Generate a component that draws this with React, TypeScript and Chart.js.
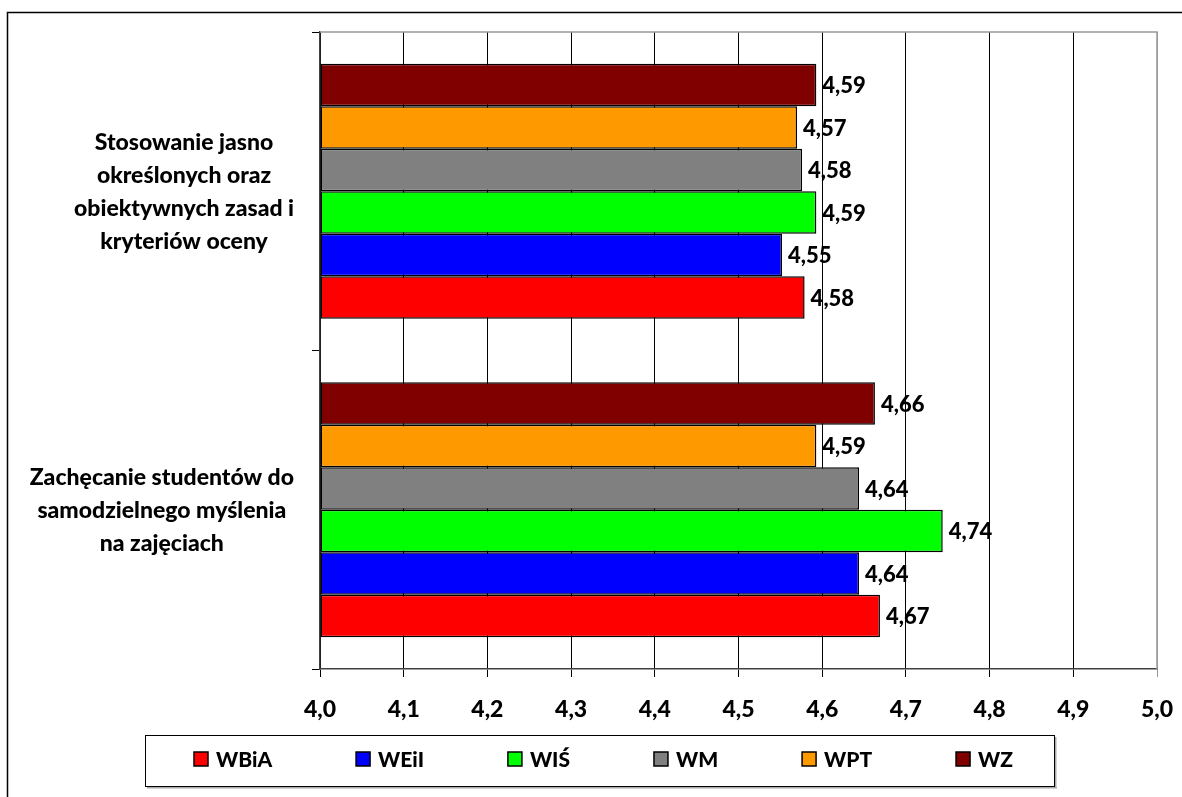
import React, { useEffect, useRef } from 'react';
import { Chart, registerables } from 'chart.js';

Chart.register(...registerables);

// ---- data ----
const categories: string[][] = [
  ['Stosowanie jasno', 'określonych oraz', 'obiektywnych zasad i', 'kryteriów oceny'],
  ['Zachęcanie studentów do', 'samodzielnego myślenia', 'na zajęciach'],
];
const seriesNames = ['WBiA', 'WEiI', 'WIŚ', 'WM', 'WPT', 'WZ'];
const seriesColors = ['#FF0000', '#0000FF', '#00FF00', '#808080', '#FF9900', '#800000'];
const valuesWBiA = [4.579, 4.669];
const valuesWEiI = [4.552, 4.644];
const valuesWIS = [4.593, 4.744];
const valuesWM = [4.576, 4.644];
const valuesWPT = [4.57, 4.593];
const valuesWZ = [4.593, 4.663];
const seriesValues = [valuesWBiA, valuesWEiI, valuesWIS, valuesWM, valuesWPT, valuesWZ];
const xMin = 4.0;
const xMax = 5.0;
const xStep = 0.1;

const FONT = 'Lato, "Open Sans", sans-serif';
const WEIGHT = '900';
const fmt = (v: number, d: number) => v.toFixed(d).replace('.', ',');

const framePlugin = {
  id: 'outerFrame',
  beforeDraw(chart: any) {
    const ctx = chart.ctx;
    ctx.save();
    ctx.strokeStyle = '#000';
    ctx.lineWidth = 1.5;
    ctx.beginPath();
    ctx.moveTo(7.5, 800);
    ctx.lineTo(7.5, 12.5);
    ctx.lineTo(1190, 12.5);
    ctx.stroke();
    ctx.restore();
  },
};

const plotBorderPlugin = {
  id: 'plotBorder',
  afterDatasetsDraw(chart: any) {
    const { ctx, chartArea } = chart;
    ctx.save();
    ctx.strokeStyle = '#999';
    ctx.lineWidth = 1.5;
    ctx.beginPath();
    ctx.moveTo(chartArea.left, chartArea.top);
    ctx.lineTo(chartArea.right, chartArea.top);
    ctx.lineTo(chartArea.right, chartArea.bottom);
    ctx.stroke();
    ctx.restore();
  },
};

// category labels: each block centred line by line, block right-aligned near the axis
const categoryLabelPlugin = {
  id: 'categoryLabels',
  afterDraw(chart: any) {
    const ctx = chart.ctx;
    const y = chart.scales.y;
    ctx.save();
    ctx.font = `${WEIGHT} 23px ${FONT}`;
    ctx.fillStyle = '#000';
    ctx.textAlign = 'center';
    ctx.textBaseline = 'middle';
    const lineH = 33;
    const right = y.right - 26;
    (chart.data.labels as string[][]).forEach((lines, i) => {
      const cy = y.getPixelForTick(i);
      const widest = Math.max(...lines.map((l) => ctx.measureText(l).width));
      const cx = right - widest / 2;
      const top = cy - ((lines.length - 1) * lineH) / 2;
      lines.forEach((l, k) => ctx.fillText(l, cx, top + k * lineH + 1));
    });
    ctx.restore();
  },
};

const valueLabelPlugin = {
  id: 'valueLabels',
  afterDatasetsDraw(chart: any) {
    const ctx = chart.ctx;
    ctx.save();
    ctx.font = `${WEIGHT} 22px ${FONT}`;
    ctx.fillStyle = '#000';
    ctx.textAlign = 'left';
    ctx.textBaseline = 'middle';
    chart.data.datasets.forEach((ds: any, i: number) => {
      const meta = chart.getDatasetMeta(i);
      meta.data.forEach((el: any, j: number) => {
        ctx.fillText(fmt(ds.data[j], 2), el.x + 6, el.y + 1);
      });
    });
    ctx.restore();
  },
};

const legendPlugin = {
  id: 'boxLegend',
  afterDraw(chart: any) {
    const ctx = chart.ctx;
    ctx.save();
    ctx.fillStyle = '#aaa';
    ctx.fillRect(147, 787, 910, 1.5);
    ctx.fillRect(1055, 737, 1.5, 51);
    ctx.strokeStyle = '#000';
    ctx.lineWidth = 1;
    ctx.strokeRect(145.5, 735.5, 909, 51);
    ctx.font = `${WEIGHT} 21px ${FONT}`;
    ctx.textBaseline = 'middle';
    ctx.textAlign = 'left';
    const box = 14;
    const gapText = 8;
    const widths = seriesNames.map((n) => box + gapText + ctx.measureText(n).width);
    const startX = 194;
    const endX = 1013;
    const sum = widths.reduce((a, b) => a + b, 0);
    const gap = (endX - startX - sum) / (seriesNames.length - 1);
    let x = startX;
    const cy = 759;
    seriesNames.forEach((n, i) => {
      ctx.fillStyle = seriesColors[i];
      ctx.fillRect(x, cy - box / 2, box, box);
      ctx.strokeStyle = '#000';
      ctx.lineWidth = 1.5;
      ctx.strokeRect(x, cy - box / 2, box, box);
      ctx.fillStyle = '#000';
      ctx.fillText(n, x + box + gapText, cy + 1);
      x += widths[i] + gap;
    });
    ctx.restore();
  },
};

export default function App() {
  const ref = useRef<HTMLCanvasElement>(null);
  useEffect(() => {
    if (!ref.current) return;
    // datasets top-to-bottom within a category: WZ ... WBiA
    const order = [5, 4, 3, 2, 1, 0];
    const chart = new Chart(ref.current, {
      type: 'bar',
      data: {
        labels: categories as any,
        datasets: order.map((k) => ({
          label: seriesNames[k],
          data: seriesValues[k],
          backgroundColor: seriesColors[k],
          borderColor: '#000',
          borderWidth: 1.5,
          borderSkipped: false,
          categoryPercentage: 0.8,
          barPercentage: 1.0,
          base: xMin,
        })),
      },
      options: {
        indexAxis: 'y',
        responsive: false,
        animation: false,
        layout: { padding: { top: 32, right: 25, left: 0, bottom: 0 } },
        plugins: {
          legend: { display: false },
          tooltip: { enabled: false },
          title: { display: false },
        },
        scales: {
          x: {
            type: 'linear',
            min: xMin,
            max: xMax,
            ticks: {
              stepSize: xStep,
              color: '#000',
              padding: 19,
              font: { family: FONT, size: 23, weight: WEIGHT },
              callback: (v: any) => fmt(Number(v), 1),
            },
            grid: {
              color: (c: any) => (c.tick && Math.abs(c.tick.value - xMax) < 1e-6 ? '#999' : '#000'),
              lineWidth: 1,
              tickLength: 8,
              drawTicks: true,
            },
            border: { color: '#404040', width: 1.5 },
            afterFit: (s: any) => {
              s.height = 128;
              s.paddingLeft = 0;
              s.paddingRight = 0;
            },
          },
          y: {
            type: 'category',
            offset: true,
            ticks: {
              display: false,
            },
            grid: {
              offset: true,
              drawOnChartArea: false,
              drawTicks: true,
              tickLength: 8,
              color: '#000',
            },
            border: { color: '#404040', width: 1.5 },
            afterFit: (s: any) => {
              s.width = 320;
              s.paddingTop = 0;
              s.paddingBottom = 0;
            },
          },
        },
      },
      plugins: [framePlugin, plotBorderPlugin, valueLabelPlugin, categoryLabelPlugin, legendPlugin],
    } as any);
    return () => chart.destroy();
  }, []);
  return (
    <div style={{ position: 'absolute', left: 0, top: 0, width: 1182, height: 797, background: '#fff' }}>
      <canvas ref={ref} width={1182} height={797} style={{ display: 'block' }} />
    </div>
  );
}
